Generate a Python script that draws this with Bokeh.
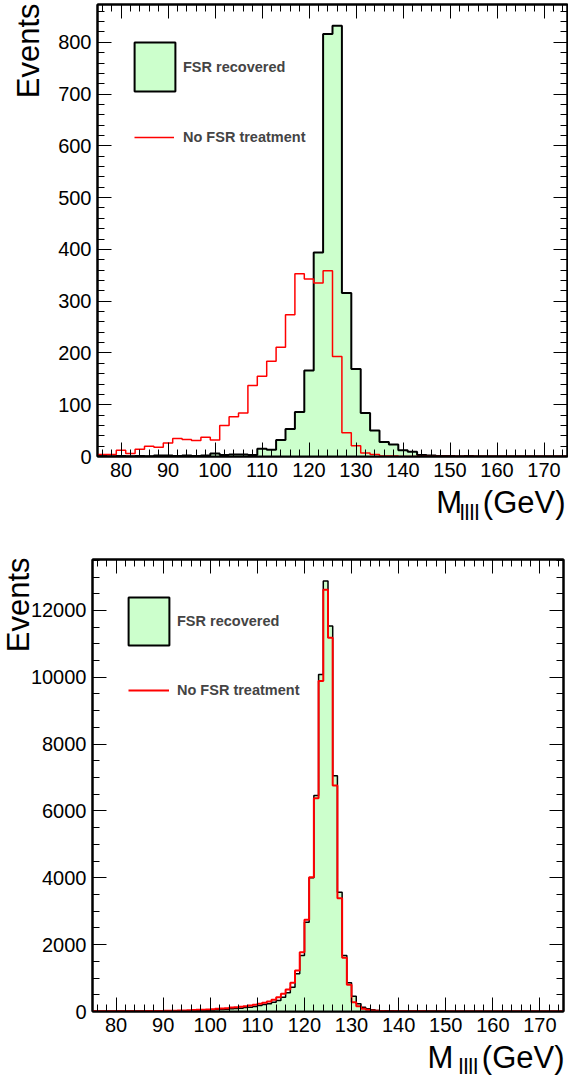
import numpy as np
from bokeh.plotting import figure
from bokeh.models import (Range1d, LinearAxis, SingleIntervalTicker, Label,
                          Legend, LegendItem, Title)
from bokeh.layouts import column
from bokeh.embed import file_html
from bokeh.resources import INLINE

# ---------------- data ----------------
x_min, x_max = 75, 175
top_bin_width = 2
bottom_bin_width = 1

# upper panel: 2 GeV bins from 75 to 175
top_fsr_recovered = [1, 0, 1, 0, 1, 0, 2, 2, 1, 2,
                     1, 2, 6, 3, 4, 4, 3, 15, 13, 32,
                     53, 86, 166, 394, 816, 832, 316, 169, 84, 50,
                     28, 23, 12, 9, 3, 2, 1, 1, 0, 1,
                     0, 0, 0, 0, 0, 0, 0, 0, 0, 0]
top_no_fsr = [4, 4, 12, 6, 14, 20, 18, 26, 35, 33,
              31, 37, 32, 60, 77, 84, 137, 155, 184, 211,
              274, 353, 343, 335, 359, 193, 46, 21, 7, 4,
              1, 1, 0, 0, 0, 0, 0, 0, 0, 0,
              0, 0, 0, 0, 0, 0, 0, 0, 0, 0]

# lower panel: 1 GeV bins from 75 to 175
bottom_fsr_recovered = [2, 2, 3, 3, 3, 4, 4, 5, 5, 6,
                        6, 7, 8, 9, 10, 11, 12, 14, 15, 17,
                        20, 25, 30, 35, 40, 45, 50, 60, 70, 80,
                        90, 100, 120, 130, 150, 180, 209, 229, 279, 329,
                        429, 559, 728, 1127, 1676, 2673, 4000, 6464, 10085, 12878,
                        11531, 7052, 3571, 1676, 858, 459, 229, 130, 80, 50,
                        30, 20, 15, 12, 10, 9, 8, 7, 6, 6,
                        5, 5, 4, 4, 4, 3, 3, 3, 3, 2,
                        2, 2, 2, 2, 2, 1, 1, 1, 1, 1,
                        1, 1, 1, 1, 1, 1, 1, 1, 1, 1]
bottom_no_fsr = [4, 4, 5, 5, 6, 6, 7, 8, 9, 10,
                 11, 12, 14, 16, 18, 20, 23, 26, 29, 33,
                 40, 45, 50, 55, 60, 70, 80, 90, 100, 120,
                 130, 140, 160, 180, 200, 229, 259, 299, 349, 429,
                 529, 658, 858, 1227, 1776, 2743, 4020, 6384, 9885, 12618,
                 11182, 6763, 3392, 1606, 798, 279, 160, 80, 50, 30,
                 20, 15, 10, 8, 7, 6, 5, 5, 4, 4,
                 4, 3, 3, 3, 2, 2, 2, 2, 2, 2,
                 1, 1, 1, 1, 1, 1, 1, 1, 1, 1,
                 1, 1, 1, 1, 1, 1, 1, 1, 1, 1]

legend_labels = ["FSR recovered", "No FSR treatment"]
y_title = "Events"
x_title_main, x_title_sub, x_title_unit = "M", "llll", "(GeV)"

FONT = "Liberation Sans"
FILL = "#ccffcc"
BASE_SHIFT = 0.33   # baseline correction for Label text, in em


def style_axis(ax, show_labels=True):
    ax.axis_line_color = "black"
    ax.axis_line_width = 2
    ax.major_tick_in = 14
    ax.major_tick_out = 0
    ax.minor_tick_in = 7
    ax.minor_tick_out = 0
    ax.major_tick_line_color = "black"
    ax.minor_tick_line_color = "black"
    ax.major_tick_line_width = 1
    ax.minor_tick_line_width = 1
    ax.major_label_text_font = FONT
    if show_labels:
        ax.major_label_text_color = "black"
        ax.major_label_text_font_size = "20px"
        ax.major_label_standoff = 6
    else:
        ax.major_label_text_color = None
        ax.major_label_text_font_size = "0px"
        ax.major_label_standoff = 0


def make_panel(rec, nofsr, bin_width, y_max, y_step, y_minor, height,
               b_left, b_right, b_top, b_bottom, black_w, red_w, cfg):
    edges = x_min + bin_width * np.arange(len(rec) + 1)
    rec_ext = list(rec) + [rec[-1]]
    nofsr_ext = list(nofsr) + [nofsr[-1]]

    p = figure(width=568, height=height,
               x_range=Range1d(x_min, x_max), y_range=Range1d(0, y_max),
               output_backend="svg", toolbar_location=None,
               min_border_left=b_left, min_border_right=b_right,
               min_border_top=b_top, min_border_bottom=b_bottom)
    try:
        p.frame_align = False
    except Exception:
        pass
    p.xgrid.grid_line_color = None
    p.ygrid.grid_line_color = None
    p.outline_line_color = "black"
    p.outline_line_width = 2
    p.background_fill_color = "white"
    p.border_fill_color = "white"

    p.xaxis.ticker = SingleIntervalTicker(interval=10, num_minor_ticks=5)
    p.yaxis.ticker = SingleIntervalTicker(interval=y_step, num_minor_ticks=y_minor)
    for ax in p.xaxis:
        style_axis(ax)
    for ax in p.yaxis:
        style_axis(ax)
    top_ax = LinearAxis(ticker=SingleIntervalTicker(interval=10, num_minor_ticks=5))
    style_axis(top_ax, show_labels=False)
    p.add_layout(top_ax, "above")
    right_ax = LinearAxis(ticker=SingleIntervalTicker(interval=y_step, num_minor_ticks=y_minor))
    style_axis(right_ax, show_labels=False)
    p.add_layout(right_ax, "right")

    fl, fw = cfg["frame_left"], cfg["frame_w"]
    fb, fh = cfg["frame_bottom"], 452

    p.varea_step(x=edges, y1=np.zeros(len(edges)), y2=rec_ext,
                 step_mode="after", fill_color=FILL)
    p.step(x=edges, y=rec_ext, mode="after", line_color="black",
           line_width=black_w)
    red = p.step(x=edges, y=nofsr_ext, mode="after", line_color="red",
                 line_width=red_w)
    # zero-size proxy used only for the legend swatch
    box = p.quad(left=[x_min], right=[x_min], top=[0], bottom=[0],
                 fill_color=FILL, line_color="black", line_width=2)

    common = dict(padding=0, margin=0, spacing=0, border_line_color=None,
                  background_fill_alpha=0, label_text_font=FONT,
                  label_text_font_style="bold", label_text_font_size="14.5px",
                  label_height=20)
    l1x, l1y = cfg["leg1"]
    l2x, l2y = cfg["leg2"]
    leg1 = Legend(items=[LegendItem(label=legend_labels[0], renderers=[box])],
                  location=(l1x - fl, fb - l1y), glyph_width=51,
                  glyph_height=cfg["leg1_gh"], label_standoff=3, **common)
    leg2 = Legend(items=[LegendItem(label=legend_labels[1], renderers=[red])],
                  location=(l2x - fl, fb - l2y), glyph_width=cfg["leg2_gw"],
                  glyph_height=20, label_standoff=cfg["leg2_so"], **common)
    p.add_layout(leg1)
    p.add_layout(leg2)

    # pixel -> data helpers for text placement outside the frame
    def dx(px):
        return x_min + (px - fl) / fw * (x_max - x_min)

    def dy(py):
        return y_max * (fb - py) / fh

    def lab(text, px, py, size, align, side, angle=0.0):
        p.add_layout(Label(x=dx(px), y=dy(py), text=text, angle=angle,
                           text_align=align, text_baseline="alphabetic",
                           text_font=FONT, text_font_size="%gpx" % size,
                           text_color="black"), side)

    if cfg["title_mode"]:
        t = Title(text=y_title, align="right", vertical_align="bottom",
                  text_font=FONT, text_font_size="31px",
                  text_font_style="normal", text_color="black")
        try:
            t.standoff = cfg["t_standoff"]
        except Exception:
            pass
        try:
            t.offset = cfg["t_offset"]
        except Exception:
            pass
        p.add_layout(t, "left")
    else:
        lab(y_title, cfg["ev"][0] - BASE_SHIFT * 31, cfg["ev"][1], 31,
            "right", "left", angle=np.pi / 2)
    lab(x_title_main + cfg["gap"] + x_title_unit, cfg["unit"][0],
        cfg["unit"][1] - BASE_SHIFT * 31, 31, "right", "below")
    lab(x_title_sub, cfg["sub"][0], cfg["sub"][1] - BASE_SHIFT * 22, 22,
        "left", cfg["sub_side"])
    return p


# pixel positions (canvas coordinates) used only for placing annotations
top_cfg = dict(title_mode=False, frame_left=96, frame_bottom=456, frame_w=471,
               leg1=(128, 97), leg1_gh=61, leg2=(133, 147),
               leg2_gw=40, leg2_so=9,
               ev=(37, 3), unit=(565, 512), sub=(459, 519), sub_side="left",
               gap="\u2004\u2004")
p1 = make_panel(top_fsr_recovered, top_no_fsr, top_bin_width, 873, 100, 5,
                530, 96, 1, 4, 74, 2, 1.5, top_cfg)

bot_cfg = dict(title_mode=True, t_standoff=-17, t_offset=-2,
               frame_left=92, frame_bottom=481, frame_w=471,
               leg1=(123, 121), leg1_gh=60, leg2=(128, 170),
               leg2_gw=41, leg2_so=8,
               ev=(32, 27), unit=(564, 537), sub=(458, 543), sub_side="above",
               gap="\u2004\u2004\u2005")
p2 = make_panel(bottom_fsr_recovered, bottom_no_fsr, bottom_bin_width, 13524,
                2000, 4, 548, 92, 5, 29, 67, 1.5, 2, bot_cfg)

layout = column(p1, p2, spacing=0)
open("out.html", "w").write(file_html(layout, INLINE))
